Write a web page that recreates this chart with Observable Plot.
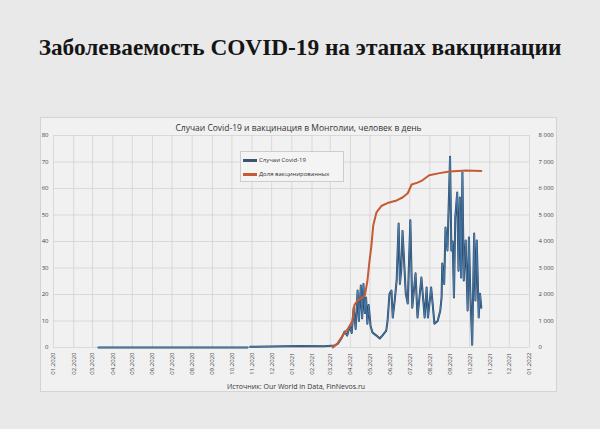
<!DOCTYPE html>
<html><head><meta charset="utf-8">
<script src="https://cdn.jsdelivr.net/npm/d3@7"></script>
<script src="https://cdn.jsdelivr.net/npm/@observablehq/plot@0.6"></script>
<style>
body{margin:0;width:600px;height:429px;background:#e9e9e9;position:relative;overflow:hidden;font-family:"Open Sans",sans-serif}
#title{position:absolute;left:0;top:33px;width:600px;text-align:center;font:bold 23.3px "Liberation Serif",serif;color:#151515;line-height:28px}
#panel{position:absolute;left:40px;top:117px;width:517px;height:275px;background:#f1f1f1;border:1px solid #d4d4d4;box-sizing:border-box}
#subtitle{position:absolute;left:40px;top:122px;width:517px;text-align:center;font-size:8.5px;color:#333;line-height:11px}
#chart{position:absolute;left:40px;top:117px}
#legend{position:absolute;left:240px;top:151px;width:104px;height:31px;border:1px solid #cdcdcd;background:#f4f4f4;box-sizing:border-box;font-size:6px;color:#333}
#legend .it{position:absolute;left:2px;height:8px;line-height:8px;white-space:nowrap}
#legend .sw{display:inline-block;width:14px;height:2.5px;vertical-align:middle;margin-right:2px}
#source{position:absolute;left:0;top:382px;width:592px;text-align:center;font-size:7px;color:#333}
</style></head>
<body>
<div id="title">Заболеваемость COVID-19 на этапах вакцинации</div>
<div id="panel"></div>
<div id="chart"></div>
<div id="subtitle">Случаи Covid-19 и вакцинация в Монголии, человек в день</div>
<div id="legend">
  <div class="it" style="top:4px"><span class="sw" style="background:#3b5670"></span>Случаи Covid-19</div>
  <div class="it" style="top:18px"><span class="sw" style="background:#c65a35"></span>Доля вакцинированных</div>
</div>
<div id="source">Источник: Our World in Data, FinNevos.ru</div>
<script>
// Cases of Covid-19 per day (right axis, people)
const caseDates = ["2020-03-10","2020-05-01","2020-07-01","2020-09-01","2020-10-25","2020-10-27","2020-10-29","2020-12-01","2021-01-15","2021-02-20","2021-03-08",
"2021-03-13","2021-03-19","2021-03-23","2021-03-27","2021-03-31","2021-04-03","2021-04-06","2021-04-09","2021-04-12","2021-04-14","2021-04-17","2021-04-19","2021-04-21","2021-04-23","2021-04-25","2021-04-27","2021-04-29","2021-05-02",
"2021-05-05","2021-05-11","2021-05-16","2021-05-20","2021-05-26","2021-05-28","2021-05-31","2021-06-03","2021-06-05","2021-06-08","2021-06-11","2021-06-14","2021-06-16","2021-06-18","2021-06-20","2021-06-25","2021-06-28",
"2021-07-02","2021-07-05","2021-07-10","2021-07-13","2021-07-19","2021-07-24","2021-07-27","2021-07-29","2021-08-03","2021-08-08","2021-08-13","2021-08-17","2021-08-19","2021-08-20","2021-08-23","2021-08-25","2021-08-28",
"2021-09-01","2021-09-03","2021-09-05","2021-09-07","2021-09-09","2021-09-12","2021-09-14","2021-09-16","2021-09-18","2021-09-20","2021-09-22","2021-09-25","2021-09-28","2021-09-30","2021-10-02","2021-10-05","2021-10-08","2021-10-10","2021-10-12","2021-10-15","2021-10-17","2021-10-19"];
const caseValues = [0,0,0,0,0,null,30,40,60,50,80,
150,380,600,450,800,550,1500,700,2150,1000,2340,1100,2400,1300,1890,900,1600,800,
560,450,340,450,640,1000,2030,2150,1130,1770,2530,4680,2400,2900,4400,2030,1660,
4800,1500,2800,1130,2640,1130,2260,1130,2260,900,1000,1400,1890,3170,2400,4530,3660,
7200,3660,4000,1890,4900,5850,2900,5660,2640,6600,2530,4040,1400,4150,2150,100,4300,1770,4040,1130,2030,1500];

// Share of vaccinated (left axis, %)
const vaxDates = ["2021-03-05","2021-03-12","2021-03-20","2021-03-28","2021-04-04","2021-04-07","2021-04-12","2021-04-23","2021-04-27","2021-04-30","2021-05-03","2021-05-06","2021-05-11","2021-05-19","2021-05-28","2021-06-11","2021-06-20","2021-06-28","2021-07-04","2021-07-13","2021-07-20","2021-07-31","2021-08-16","2021-08-31","2021-09-26","2021-10-19"];
const vaxValues = [0,1.5,4.5,7,10,16,17.7,19.5,25,32,38,46,51,53.5,54.5,55.5,56.6,58.2,61.5,62.2,63,65,65.8,66.4,66.8,66.6];

const yTicks = [0,10,20,30,40,50,60,70,80];
const monthTicks = ["2020-01-01","2020-02-01","2020-03-01","2020-04-01","2020-05-01","2020-06-01","2020-07-01","2020-08-01","2020-09-01","2020-10-01","2020-11-01","2020-12-01",
"2021-01-01","2021-02-01","2021-03-01","2021-04-01","2021-05-01","2021-06-01","2021-07-01","2021-08-01","2021-09-01","2021-10-01","2021-11-01","2021-12-01","2022-01-01"].map(d => new Date(d));

const cases = caseDates.map((d,i) => ({date: new Date(d), value: caseValues[i]}));
const vax = vaxDates.map((d,i) => ({date: new Date(d), value: vaxValues[i]}));
const rightFmt = d => d === 0 ? "0" : d3.format(",")(d*100).replace(/,/g, "\u00a0");

const chart = Plot.plot({
  width: 517, height: 275,
  marginLeft: 13, marginRight: 28, marginTop: 18, marginBottom: 45,
  style: {background: "transparent", fontSize: "6px", fontFamily: "Open Sans", color: "#444"},
  x: {type: "utc", domain: [new Date("2020-01-01"), new Date("2022-01-01")]},
  y: {domain: [0, 80]},
  marks: [
    Plot.gridX(monthTicks, {stroke: "#cfcfcf", strokeOpacity: 1, strokeWidth: 0.7}),
    Plot.gridY(yTicks, {stroke: "#cfcfcf", strokeOpacity: 1, strokeWidth: 0.7}),
    Plot.axisX(monthTicks, {tickFormat: d3.utcFormat("%m.%Y"), tickRotate: -90, tickSize: 0, tickPadding: 5, label: null}),
    Plot.axisY(yTicks, {anchor: "left", tickSize: 0, tickPadding: 5, label: null}),
    Plot.axisY(yTicks, {anchor: "right", tickSize: 0, tickPadding: 9, tickFormat: rightFmt, label: null, textAnchor: "start"}),
    Plot.lineY(cases, {x: "date", y: d => d.value == null ? NaN : d.value/100, stroke: "#2a4560", strokeWidth: 2}),
    Plot.lineY(cases, {x: "date", y: d => d.value == null ? NaN : d.value/100, stroke: "#4f86bd", strokeWidth: 0.8}),
    Plot.lineY(vax, {x: "date", y: "value", stroke: "#c65a35", strokeWidth: 2})
  ]
});
document.getElementById("chart").appendChild(chart);
</script>
</body></html>
